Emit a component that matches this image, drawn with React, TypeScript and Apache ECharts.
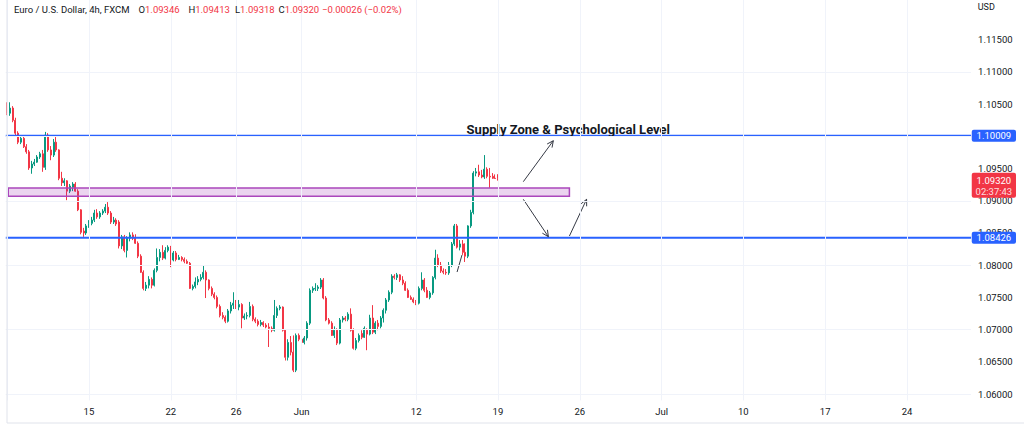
import React, { useEffect, useRef } from "react";
import * as echarts from "echarts";

// ---------- data ----------
const START_DATE = "2023-05-08";
const TOTAL_SLOTS = 354; // candle slots shown on the time scale (data + empty future)
const HOURS = ["00:00", "04:00", "08:00", "12:00", "16:00", "20:00"];

const tickDates = ["2023-05-15", "2023-05-22", "2023-05-26", "2023-06-01", "2023-06-12", "2023-06-19", "2023-06-26", "2023-07-03", "2023-07-10", "2023-07-17", "2023-07-24"];
const tickLabels = ["15", "22", "26", "Jun", "12", "19", "26", "Jul", "10", "17", "24"];
const gridDates = ["2023-05-08", ...tickDates];

const priceTicks = [1.06, 1.065, 1.07, 1.075, 1.08, 1.085, 1.09, 1.095, 1.1, 1.105, 1.11, 1.115];

// [open, close, low, high]
const ohlc: number[][] = [
  [1.1044, 1.1036, 1.1033, 1.1053], [1.1036, 1.1044, 1.1032, 1.1053], [1.1044, 1.1025, 1.1022, 1.1047], [1.1025, 1.1005, 1.1002, 1.1029],
  [1.1005, 1.0991, 1.0988, 1.1008], [1.0991, 1.0997, 1.0988, 1.1002], [1.0997, 1.0984, 1.0982, 1.1001], [1.0984, 1.0976, 1.0973, 1.0988],
  [1.0976, 1.0951, 1.0948, 1.0979], [1.0951, 1.0957, 1.0942, 1.0962], [1.0957, 1.0960, 1.0954, 1.0965], [1.0960, 1.0968, 1.0959, 1.0971],
  [1.0968, 1.0973, 1.0965, 1.0976], [1.0973, 1.0952, 1.0945, 1.0979], [1.0952, 1.1002, 1.0948, 1.1007], [1.1002, 1.0979, 1.0976, 1.1005],
  [1.0979, 1.0971, 1.0963, 1.0985], [1.0971, 1.0991, 1.0968, 1.0996], [1.0991, 1.0979, 1.0976, 1.0999], [1.0979, 1.0935, 1.0932, 1.0980],
  [1.0935, 1.0928, 1.0923, 1.0945], [1.0928, 1.0931, 1.0923, 1.0935], [1.0931, 1.0915, 1.0901, 1.0932], [1.0915, 1.0923, 1.0912, 1.0926],
  [1.0921, 1.0926, 1.0915, 1.0929], [1.0926, 1.0915, 1.0914, 1.0929], [1.0915, 1.0886, 1.0884, 1.0918], [1.0886, 1.0851, 1.0848, 1.0887],
  [1.0853, 1.0850, 1.0844, 1.0858], [1.0850, 1.0861, 1.0847, 1.0864], [1.0861, 1.0865, 1.0858, 1.0870], [1.0865, 1.0870, 1.0862, 1.0875],
  [1.0870, 1.0881, 1.0867, 1.0886], [1.0881, 1.0875, 1.0872, 1.0887], [1.0875, 1.0881, 1.0872, 1.0884], [1.0881, 1.0884, 1.0878, 1.0887],
  [1.0884, 1.0890, 1.0881, 1.0895], [1.0890, 1.0881, 1.0878, 1.0898], [1.0881, 1.0867, 1.0864, 1.0884], [1.0867, 1.0870, 1.0864, 1.0875],
  [1.0870, 1.0864, 1.0861, 1.0873], [1.0867, 1.0830, 1.0826, 1.0870], [1.0830, 1.0844, 1.0825, 1.0847], [1.0844, 1.0823, 1.0820, 1.0847],
  [1.0823, 1.0842, 1.0812, 1.0845], [1.0842, 1.0847, 1.0837, 1.0851], [1.0847, 1.0842, 1.0839, 1.0851], [1.0842, 1.0834, 1.0833, 1.0848],
  [1.0834, 1.0814, 1.0811, 1.0837], [1.0814, 1.0789, 1.0788, 1.0817], [1.0789, 1.0764, 1.0761, 1.0792], [1.0764, 1.0769, 1.0760, 1.0774],
  [1.0769, 1.0778, 1.0764, 1.0783], [1.0778, 1.0769, 1.0764, 1.0781], [1.0769, 1.0792, 1.0767, 1.0795], [1.0792, 1.0812, 1.0789, 1.0826],
  [1.0812, 1.0820, 1.0806, 1.0825], [1.0820, 1.0811, 1.0808, 1.0831], [1.0811, 1.0823, 1.0809, 1.0828], [1.0823, 1.0828, 1.0820, 1.0831],
  [1.0828, 1.0808, 1.0797, 1.0830], [1.0808, 1.0819, 1.0806, 1.0822], [1.0819, 1.0809, 1.0806, 1.0822], [1.0809, 1.0812, 1.0808, 1.0816],
  [1.0812, 1.0809, 1.0806, 1.0814], [1.0809, 1.0806, 1.0803, 1.0812], [1.0806, 1.0803, 1.0802, 1.0809], [1.0803, 1.0764, 1.0763, 1.0805],
  [1.0764, 1.0767, 1.0761, 1.0770], [1.0767, 1.0774, 1.0764, 1.0781], [1.0774, 1.0778, 1.0769, 1.0783], [1.0778, 1.0781, 1.0775, 1.0786],
  [1.0781, 1.0789, 1.0778, 1.0800], [1.0789, 1.0777, 1.0749, 1.0792], [1.0777, 1.0764, 1.0761, 1.0778], [1.0764, 1.0755, 1.0752, 1.0767],
  [1.0755, 1.0750, 1.0747, 1.0758], [1.0750, 1.0736, 1.0733, 1.0753], [1.0736, 1.0722, 1.0719, 1.0739], [1.0722, 1.0719, 1.0716, 1.0727],
  [1.0719, 1.0713, 1.0710, 1.0722], [1.0713, 1.0729, 1.0711, 1.0732], [1.0729, 1.0738, 1.0725, 1.0743], [1.0738, 1.0741, 1.0732, 1.0758],
  [1.0741, 1.0735, 1.0732, 1.0746], [1.0735, 1.0739, 1.0730, 1.0746], [1.0739, 1.0718, 1.0702, 1.0741], [1.0718, 1.0721, 1.0715, 1.0725],
  [1.0721, 1.0722, 1.0716, 1.0727], [1.0722, 1.0736, 1.0719, 1.0743], [1.0736, 1.0716, 1.0713, 1.0739], [1.0716, 1.0713, 1.0710, 1.0719],
  [1.0713, 1.0708, 1.0705, 1.0716], [1.0708, 1.0711, 1.0705, 1.0715], [1.0711, 1.0707, 1.0704, 1.0713], [1.0707, 1.0704, 1.0702, 1.0710],
  [1.0704, 1.0702, 1.0673, 1.0710], [1.0702, 1.0699, 1.0696, 1.0705], [1.0699, 1.0722, 1.0697, 1.0746], [1.0722, 1.0733, 1.0718, 1.0736],
  [1.0733, 1.0735, 1.0730, 1.0738], [1.0735, 1.0699, 1.0697, 1.0736], [1.0699, 1.0657, 1.0652, 1.0701], [1.0657, 1.0680, 1.0652, 1.0685],
  [1.0680, 1.0665, 1.0660, 1.0690], [1.0665, 1.0637, 1.0634, 1.0691], [1.0637, 1.0691, 1.0634, 1.0694], [1.0691, 1.0685, 1.0682, 1.0694],
  [1.0685, 1.0680, 1.0663, 1.0688], [1.0680, 1.0687, 1.0677, 1.0690], [1.0687, 1.0710, 1.0683, 1.0713], [1.0710, 1.0761, 1.0707, 1.0764],
  [1.0761, 1.0764, 1.0757, 1.0767], [1.0763, 1.0764, 1.0760, 1.0772], [1.0764, 1.0766, 1.0760, 1.0769], [1.0766, 1.0777, 1.0763, 1.0780],
  [1.0777, 1.0749, 1.0747, 1.0780], [1.0749, 1.0715, 1.0713, 1.0752], [1.0715, 1.0710, 1.0708, 1.0718], [1.0710, 1.0691, 1.0690, 1.0713],
  [1.0691, 1.0699, 1.0687, 1.0705], [1.0699, 1.0679, 1.0676, 1.0702], [1.0679, 1.0715, 1.0677, 1.0718], [1.0715, 1.0718, 1.0711, 1.0721],
  [1.0718, 1.0716, 1.0713, 1.0721], [1.0716, 1.0724, 1.0713, 1.0727], [1.0724, 1.0699, 1.0697, 1.0733], [1.0699, 1.0671, 1.0669, 1.0702],
  [1.0671, 1.0683, 1.0668, 1.0687], [1.0683, 1.0691, 1.0680, 1.0694], [1.0694, 1.0688, 1.0685, 1.0699], [1.0688, 1.0702, 1.0687, 1.0705],
  [1.0699, 1.0693, 1.0668, 1.0702], [1.0693, 1.0718, 1.0691, 1.0723], [1.0718, 1.0696, 1.0693, 1.0738], [1.0696, 1.0710, 1.0693, 1.0713],
  [1.0710, 1.0705, 1.0699, 1.0715], [1.0705, 1.0718, 1.0702, 1.0721], [1.0718, 1.0730, 1.0711, 1.0733], [1.0730, 1.0746, 1.0725, 1.0749],
  [1.0746, 1.0758, 1.0743, 1.0761], [1.0758, 1.0783, 1.0755, 1.0786], [1.0783, 1.0781, 1.0778, 1.0786], [1.0781, 1.0785, 1.0777, 1.0788],
  [1.0785, 1.0777, 1.0774, 1.0786], [1.0777, 1.0772, 1.0769, 1.0783], [1.0772, 1.0761, 1.0760, 1.0775], [1.0761, 1.0750, 1.0749, 1.0764],
  [1.0750, 1.0747, 1.0746, 1.0753], [1.0747, 1.0743, 1.0741, 1.0750], [1.0743, 1.0741, 1.0738, 1.0746], [1.0741, 1.0764, 1.0739, 1.0767],
  [1.0764, 1.0777, 1.0761, 1.0789], [1.0777, 1.0761, 1.0758, 1.0780], [1.0761, 1.0750, 1.0749, 1.0766], [1.0750, 1.0757, 1.0747, 1.0760],
  [1.0757, 1.0781, 1.0754, 1.0783], [1.0781, 1.0811, 1.0778, 1.0824], [1.0811, 1.0800, 1.0797, 1.0817], [1.0800, 1.0791, 1.0788, 1.0805],
  [1.0791, 1.0789, 1.0786, 1.0795], [1.0789, 1.0788, 1.0785, 1.0794], [1.0788, 1.0800, 1.0785, 1.0805], [1.0800, 1.0833, 1.0797, 1.0836],
  [1.0833, 1.0861, 1.0830, 1.0864], [1.0861, 1.0828, 1.0826, 1.0864], [1.0828, 1.0833, 1.0823, 1.0839], [1.0833, 1.0820, 1.0816, 1.0839],
  [1.0820, 1.0814, 1.0805, 1.0834], [1.0814, 1.0861, 1.0811, 1.0862], [1.0861, 1.0882, 1.0858, 1.0886], [1.0882, 1.0943, 1.0879, 1.0946],
  [1.0943, 1.0945, 1.0938, 1.0951], [1.0945, 1.0940, 1.0937, 1.0956], [1.0940, 1.0937, 1.0935, 1.0948], [1.0937, 1.0949, 1.0934, 1.0971],
  [1.0949, 1.0938, 1.0935, 1.0952], [1.0938, 1.0937, 1.0920, 1.0951], [1.0938, 1.0935, 1.0934, 1.0943], [1.0935, 1.09346, 1.0934, 1.0941],
  [1.09346, 1.09320, 1.09318, 1.09413],
];

// drawings (x in candle-slot units, y in price)
const levelPrices = [1.10009, 1.08426];
const zonePrices = [1.0907, 1.092];
const zoneSpan = [0.4, 206.2];
const arrowSegments = [
  [189.3, 1.09297, 200.3, 1.09933],
  [189.3, 1.09023, 198.5, 1.08442],
  [206.2, 1.08453, 212.5, 1.09023],
];
const plainSegments = [[165.0, 1.07894, 166.8, 1.08158]];
const noteText = "Supply Zone & Psychological Level";
const noteAnchor = [168.5, 1.101];

const SYMBOL_NAME = "Euro / U.S. Dollar, 4h, FXCM";
const CURRENCY = "USD";
const COUNTDOWN = "02:37:43";

// ---------- style ----------
const FONT = "Roboto, 'Liberation Sans', sans-serif";
const TEXT = "#131722";
const UP = "#089981";
const DOWN = "#f23645";
const GRID = "#f0f3fa";
const BLUE = "#2962ff";
const GRID_LEFT = 5.8;
const GRID_RIGHT = 52.95;
const GRID_BOTTOM = 24.56;
const Y_MIN = 1.059;
const Y_MAX = 1.12118;

function buildCategories(): string[] {
  const out: string[] = [];
  const d = new Date(START_DATE + "T00:00:00Z");
  while (out.length < TOTAL_SLOTS) {
    const wd = d.getUTCDay();
    if (wd !== 0 && wd !== 6) {
      const ds = d.toISOString().slice(0, 10);
      for (const h of HOURS) if (out.length < TOTAL_SLOTS) out.push(ds + " " + h);
    }
    d.setUTCDate(d.getUTCDate() + 1);
  }
  return out;
}

const fmt = (v: number, n = 5) => v.toFixed(n).replace("-", "\u2212");
const isTick = (v: number) => priceTicks.some((t) => Math.abs(t - v) < 1e-7);

export default function App() {
  const ref = useRef<HTMLDivElement>(null);
  useEffect(() => {
    const el = ref.current;
    if (!el) return;
    const chart = echarts.init(el, null, { renderer: "svg" });
    const categories = buildCategories();
    const labelMap: Record<string, string> = {};
    tickDates.forEach((d, i) => (labelMap[d + " 00:00"] = tickLabels[i]));

    chart.setOption({
      animation: false,
      backgroundColor: "#ffffff",
      grid: { left: GRID_LEFT, right: GRID_RIGHT, top: 0, bottom: GRID_BOTTOM, containLabel: false },
      xAxis: [
        {
          type: "category",
          data: categories,
          boundaryGap: true,
          axisLine: { show: false },
          axisTick: { show: false },
          splitLine: { show: false },
          axisLabel: {
            interval: (_i: number, v: string) => labelMap[v] !== undefined,
            formatter: (v: string) => labelMap[v] || "",
            color: TEXT,
            fontFamily: FONT,
            fontSize: 9.5,
            margin: 6,
          },
        },
        { type: "value", min: -0.5, max: TOTAL_SLOTS - 0.5, show: false },
      ],
      yAxis: {
        type: "value",
        position: "right",
        min: Y_MIN,
        max: Y_MAX,
        interval: 0.001,
        scale: true,
        splitLine: { show: false },
        axisLine: { show: false },
        axisTick: { show: false },
        axisLabel: {
          formatter: (v: number) => (isTick(v) ? v.toFixed(5) : ""),
          color: TEXT,
          fontFamily: FONT,
          fontSize: 9.5,
          margin: 7,
        },
      },
      series: [
        {
          type: "line",
          data: [],
          z: 1,
          silent: true,
          markLine: {
            silent: true,
            symbol: ["none", "none"],
            label: { show: false },
            lineStyle: { color: GRID, width: 1, type: "solid" },
            data: [
              ...priceTicks.map((v) => ({ yAxis: v })),
              ...gridDates.map((d) => ({ xAxis: d + " 00:00" })),
            ],
          },
        },
        {
          type: "candlestick",
          data: ohlc,
          z: 2,
          barWidth: 1.5,
          itemStyle: { color: UP, color0: DOWN, borderColor: UP, borderColor0: DOWN, borderWidth: 1 },
        },
        {
          type: "custom",
          xAxisIndex: 1,
          yAxisIndex: 0,
          z: 3,
          clip: false,
          silent: true,
          data: [[0, zonePrices[0]]],
          encode: { x: 0, y: 1 },
          renderItem: (_params: any, api: any) => {
            const children: any[] = [];
            // horizontal levels across the whole pane
            for (const v of levelPrices) {
              const a = api.coord([-0.5, v]);
              const b = api.coord([TOTAL_SLOTS - 0.5, v]);
              children.push({ type: "line", shape: { x1: a[0], y1: a[1], x2: b[0], y2: b[1] }, style: { stroke: BLUE, lineWidth: 2 } });
            }
            const p0 = api.coord([zoneSpan[0], zonePrices[1]]);
            const p1 = api.coord([zoneSpan[1], zonePrices[0]]);
            children.push({
              type: "rect",
              shape: { x: p0[0], y: p0[1], width: p1[0] - p0[0], height: p1[1] - p0[1] },
              style: { fill: "rgba(156,39,176,0.2)", stroke: "#ab47bc", lineWidth: 1.5 },
            });
            const ink = "#363a45";
            for (const s of plainSegments) {
              const a = api.coord([s[0], s[1]]);
              const b = api.coord([s[2], s[3]]);
              children.push({ type: "line", shape: { x1: a[0], y1: a[1], x2: b[0], y2: b[1] }, style: { stroke: ink, lineWidth: 1 } });
            }
            for (const s of arrowSegments) {
              const a = api.coord([s[0], s[1]]);
              const b = api.coord([s[2], s[3]]);
              children.push({ type: "line", shape: { x1: a[0], y1: a[1], x2: b[0], y2: b[1] }, style: { stroke: ink, lineWidth: 1 } });
              const ang = Math.atan2(b[1] - a[1], b[0] - a[0]);
              const L = 7;
              const w = Math.PI / 7;
              children.push({
                type: "polyline",
                shape: {
                  points: [
                    [b[0] - L * Math.cos(ang - w), b[1] - L * Math.sin(ang - w)],
                    [b[0], b[1]],
                    [b[0] - L * Math.cos(ang + w), b[1] - L * Math.sin(ang + w)],
                  ],
                },
                style: { stroke: ink, lineWidth: 1, fill: "none" },
              });
            }
            const t = api.coord(noteAnchor);
            children.push({
              type: "text",
              x: t[0],
              y: t[1],
              style: { text: noteText, fill: TEXT, fontSize: 13, fontWeight: "bold", fontFamily: FONT, align: "left", verticalAlign: "middle" },
            });
            return { type: "group", children };
          },
        },
      ],
    });

    // price-scale tags and header, positioned through the axis scale
    const W = chart.getWidth();
    const paneRight = W - GRID_RIGHT;
    const tagX = paneRight + 0.7;
    const tagW = W - 8 - tagX;
    const yOf = (v: number) => chart.convertToPixel({ yAxisIndex: 0 }, v) as number;
    const last = ohlc[ohlc.length - 1];
    const prev = ohlc[ohlc.length - 2];
    const chg = last[1] - prev[1];
    const pct = (chg / prev[1]) * 100;

    const graphics: any[] = [];
    // frame
    graphics.push({ type: "line", shape: { x1: 7, y1: 0, x2: 7, y2: 423 }, style: { stroke: "#e0e3eb", lineWidth: 1 }, z: 50 });
    graphics.push({ type: "line", shape: { x1: 7, y1: 423, x2: W, y2: 423 }, style: { stroke: "#e0e3eb", lineWidth: 1 }, z: 50 });

    levelPrices.forEach((v) => {
      const y = yOf(v);
      graphics.push({ type: "rect", shape: { x: tagX, y: y - 6, width: tagW, height: 12, r: 2 }, style: { fill: BLUE }, z: 100 });
      graphics.push({
        type: "text", x: tagX + tagW / 2, y, z: 101,
        style: { text: v.toFixed(5), fill: "#ffffff", fontSize: 9.5, fontFamily: FONT, align: "center", verticalAlign: "middle" },
      });
    });
    {
      const y = yOf(last[1]);
      graphics.push({ type: "rect", shape: { x: tagX, y: y - 7.5, width: tagW, height: 25, r: 2 }, style: { fill: DOWN }, z: 100 });
      graphics.push({
        type: "text", x: tagX + tagW / 2, y, z: 101,
        style: { text: last[1].toFixed(5), fill: "#ffffff", fontSize: 9.5, fontFamily: FONT, align: "center", verticalAlign: "middle" },
      });
      graphics.push({
        type: "text", x: tagX + tagW / 2, y: y + 11, z: 101,
        style: { text: COUNTDOWN, fill: "rgba(255,255,255,0.85)", fontSize: 9.5, fontFamily: FONT, align: "center", verticalAlign: "middle" },
      });
    }
    graphics.push({
      type: "text", x: tagX + 6, y: 7, z: 101,
      style: { text: CURRENCY, fill: TEXT, fontSize: 9, fontFamily: FONT, align: "left", verticalAlign: "middle" },
    });

    const hdrY = 9;
    const hdr = [
      { x: 14, k: SYMBOL_NAME, v: "" },
      { x: 138.5, k: "O", v: fmt(last[0]) },
      { x: 188.5, k: "H", v: fmt(last[3]) },
      { x: 235, k: "L", v: fmt(last[2]) },
      { x: 278.5, k: "C", v: fmt(last[1]) },
      { x: 322, k: "", v: fmt(chg) + " (" + fmt(pct, 2) + "%)" },
    ];
    hdr.forEach((h) => {
      graphics.push({
        type: "text", x: h.x, y: hdrY, z: 101,
        style: {
          text: (h.k ? "{k|" + h.k + "}" : "") + (h.v ? "{v|" + h.v + "}" : ""),
          rich: {
            k: { fill: TEXT, fontSize: 9.5, fontFamily: FONT },
            v: { fill: DOWN, fontSize: 9.5, fontFamily: FONT },
          },
          align: "left",
          verticalAlign: "middle",
        },
      });
    });

    chart.setOption({ graphic: graphics });
    return () => chart.dispose();
  }, []);

  return (
    <div
      ref={ref}
      style={{ position: "fixed", left: 0, top: 0, width: 1024, height: 425, background: "#ffffff" }}
    />
  );
}
